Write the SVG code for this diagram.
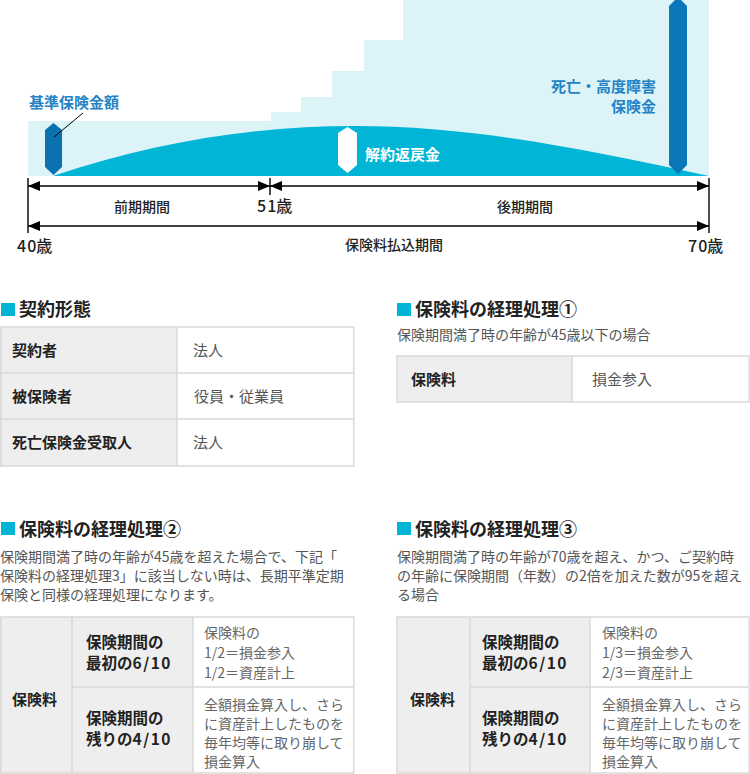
<svg xmlns="http://www.w3.org/2000/svg" width="750" height="774" viewBox="0 0 750 774">
<style>
text{font-family:"Noto Sans CJK JP","Noto Sans",sans-serif;}
.lbl{font-size:15px;font-weight:bold;fill:#2482c5;}
.ax{font-size:14px;font-weight:500;fill:#222;}
.age{font-size:16px;font-weight:500;fill:#222;}
.ttl{font-size:18px;font-weight:bold;fill:#222;}
.sq{fill:#00b4d5;}
.sub{font-size:14px;fill:#555;}
.th{font-size:15px;font-weight:bold;fill:#222;}
.td{font-size:15px;fill:#555;}
.th2{font-size:15.5px;font-weight:bold;fill:#222;}
.td2{font-size:14px;fill:#666;}
.dg{letter-spacing:1.5px;}
.dga{letter-spacing:1px;}
.hd{fill:#eeeeee;}
.bd{fill:none;stroke:#d9d9d9;stroke-width:1.5;}
.conn line{stroke:#000;stroke-width:1.4;}
</style>
<defs>
<marker id="ah" viewBox="0 0 12 10" refX="12" refY="5" markerWidth="12" markerHeight="10" markerUnits="userSpaceOnUse" orient="auto-start-reverse">
<path d="M0,0 L12,5 L0,10 z" fill="#000"/>
</marker>
</defs>

<g id="chart">
<polygon fill="#dcf3f8" points="28,121 271,121 271,112 301,112 301,97 332,97 332,71 364,71 364,40 403,40 403,0 709,0 709,176 28,176"/>
<path fill="#00b5d6" d="M53,176 C160,140 260,126 355,126 C470,126 580,148 709,176 Z"/>
</g>

<g id="marker-base">
<polygon fill="#0b72b2" points="53.5,123 62,130 62,167 53.5,175 45,167 45,130"/>
<line x1="83" y1="113" x2="54" y2="137" stroke="#000" stroke-width="1"/>
<text class="lbl" x="29" y="108">基準保険金額</text>
</g>

<g id="marker-surrender">
<polygon fill="#fff" points="347.5,127 357,133 357,165 347.5,173 338,165 338,133"/>
<text x="365" y="160" style="font-size:15px;font-weight:bold;fill:#fff;">解約返戻金</text>
</g>

<g id="marker-death">
<polygon fill="#0a77b8" points="678,-3 687,6 687,165 678,174 669,165 669,6"/>
<text class="lbl" x="656" y="92" text-anchor="end">死亡・高度障害</text>
<text class="lbl" x="656" y="112" text-anchor="end">保険金</text>
</g>

<g id="connectors" class="conn">
<line x1="28" y1="178" x2="28" y2="233"/>
<line x1="270" y1="178" x2="270" y2="195"/>
<line x1="709" y1="178" x2="709" y2="233"/>
<line x1="28" y1="186" x2="270" y2="186" marker-start="url(#ah)" marker-end="url(#ah)"/>
<line x1="270" y1="186" x2="709" y2="186" marker-start="url(#ah)" marker-end="url(#ah)"/>
<line x1="28" y1="226" x2="709" y2="226" marker-start="url(#ah)" marker-end="url(#ah)"/>
</g>

<g id="axis-labels">
<text class="ax" x="114" y="212">前期期間</text>
<text class="age" x="257" y="212"><tspan class="dga">5</tspan>1歳</text>
<text class="ax" x="497" y="212">後期期間</text>
<text class="age" x="17" y="252"><tspan class="dga">4</tspan>0歳</text>
<text class="ax" x="345" y="250">保険料払込期間</text>
<text class="age" x="688" y="252"><tspan class="dga">7</tspan>0歳</text>
</g>

<g id="table-contract">
<rect class="sq" x="1" y="303" width="14" height="13"/>
<text class="ttl" x="19" y="316">契約形態</text>
<rect class="hd" x="0" y="327" width="177" height="139"/>
<rect class="bd" x="0.75" y="327" width="353" height="139"/>
<line class="bd" x1="177" y1="327" x2="177" y2="466"/>
<line class="bd" x1="0" y1="373" x2="354" y2="373"/>
<line class="bd" x1="0" y1="419" x2="354" y2="419"/>
<text class="th" x="12" y="356">契約者</text>
<text class="td" x="193" y="356">法人</text>
<text class="th" x="12" y="402">被保険者</text>
<text class="td" x="194" y="402">役員・従業員</text>
<text class="th" x="12" y="448">死亡保険金受取人</text>
<text class="td" x="193" y="448">法人</text>
</g>

<g id="table-1">
<rect class="sq" x="397" y="303" width="14" height="13"/>
<text class="ttl" x="415" y="316">保険料の経理処理①</text>
<text class="sub" x="397" y="340">保険期間満了時の年齢が45歳以下の場合</text>
<rect class="hd" x="397" y="356" width="175" height="46"/>
<rect class="bd" x="397" y="356" width="352" height="46"/>
<line class="bd" x1="572" y1="356" x2="572" y2="402"/>
<text class="th" x="411" y="385">保険料</text>
<text class="td" x="592" y="385">損金参入</text>
</g>

<g id="table-2">
<rect class="sq" x="1" y="522" width="14" height="13"/>
<text class="ttl" x="19" y="536">保険料の経理処理②</text>
<text class="sub" x="0" y="562">保険期間満了時の年齢が45歳を超えた場合で、下記「</text>
<text class="sub" x="0" y="581">保険料の経理処理3」に該当しない時は、長期平準定期</text>
<text class="sub" x="0" y="600">保険と同様の経理処理になります。</text>
<rect class="hd" x="0" y="617" width="193" height="156"/>
<rect class="bd" x="0.75" y="617" width="353" height="156"/>
<line class="bd" x1="72" y1="617" x2="72" y2="773"/>
<line class="bd" x1="193" y1="617" x2="193" y2="773"/>
<line class="bd" x1="72" y1="687" x2="354" y2="687"/>
<text class="th" x="12" y="705">保険料</text>
<text class="th2" x="86" y="648">保険期間の</text>
<text class="th2" x="86" y="669">最初の<tspan class="dg">6/1</tspan>0</text>
<text class="th2" x="86" y="724">保険期間の</text>
<text class="th2" x="86" y="745">残りの<tspan class="dg">4/1</tspan>0</text>
<text class="td2" x="204" y="638">保険料の</text>
<text class="td2" x="204" y="658">1/2＝損金参入</text>
<text class="td2" x="204" y="678">1/2＝資産計上</text>
<text class="td2" x="204" y="710">全額損金算入し、さら</text>
<text class="td2" x="204" y="729">に資産計上したものを</text>
<text class="td2" x="204" y="748">毎年均等に取り崩して</text>
<text class="td2" x="204" y="767">損金算入</text>
</g>

<g id="table-3">
<rect class="sq" x="397" y="522" width="14" height="13"/>
<text class="ttl" x="415" y="536">保険料の経理処理③</text>
<text class="sub" x="397" y="562">保険期間満了時の年齢が70歳を超え、かつ、ご契約時</text>
<text class="sub" x="397" y="581">の年齢に保険期間（年数）の2倍を加えた数が95を超え</text>
<text class="sub" x="397" y="600">る場合</text>
<rect class="hd" x="397" y="617" width="193" height="156"/>
<rect class="bd" x="397" y="617" width="352" height="156"/>
<line class="bd" x1="470" y1="617" x2="470" y2="773"/>
<line class="bd" x1="590" y1="617" x2="590" y2="773"/>
<line class="bd" x1="470" y1="687" x2="749" y2="687"/>
<text class="th" x="410" y="705">保険料</text>
<text class="th2" x="482" y="648">保険期間の</text>
<text class="th2" x="482" y="669">最初の<tspan class="dg">6/1</tspan>0</text>
<text class="th2" x="482" y="724">保険期間の</text>
<text class="th2" x="482" y="745">残りの<tspan class="dg">4/1</tspan>0</text>
<text class="td2" x="602" y="638">保険料の</text>
<text class="td2" x="602" y="658">1/3＝損金参入</text>
<text class="td2" x="602" y="678">2/3＝資産計上</text>
<text class="td2" x="602" y="710">全額損金算入し、さら</text>
<text class="td2" x="602" y="729">に資産計上したものを</text>
<text class="td2" x="602" y="748">毎年均等に取り崩して</text>
<text class="td2" x="602" y="767">損金算入</text>
</g>
</svg>
